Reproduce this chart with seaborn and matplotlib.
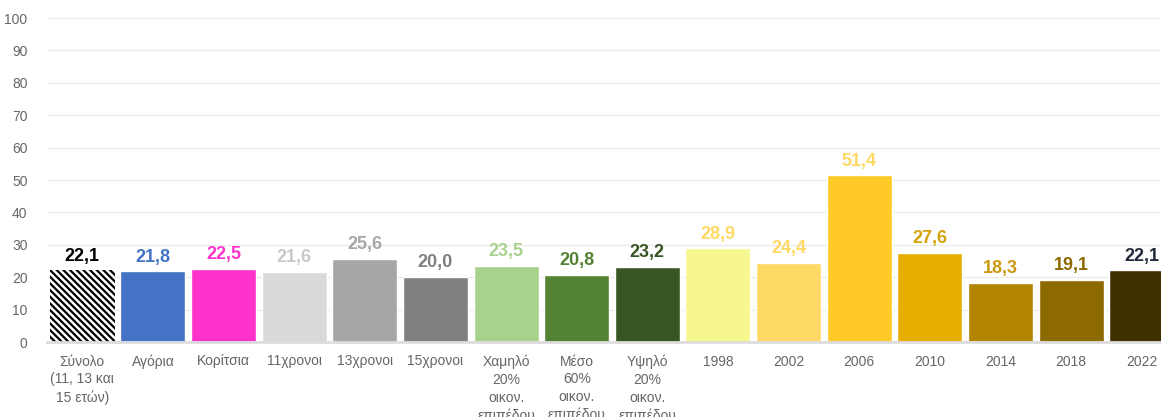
import pandas as pd
import matplotlib
matplotlib.use("Agg")
import matplotlib.pyplot as plt
import seaborn as sns

# Data
categories = [
    "Σύνολο\n(11, 13 και\n15 ετών)", "Αγόρια", "Κορίτσια", "11χρονοι",
    "13χρονοι", "15χρονοι", "Χαμηλό\n20%\nοικον.\nεπιπέδου",
    "Μέσο\n60%\nοικον.\nεπιπέδου", "Υψηλό\n20%\nοικον.\nεπιπέδου",
    "1998", "2002", "2006", "2010", "2014", "2018", "2022",
]
values = [22.1, 21.8, 22.5, 21.6, 25.6, 20.0, 23.5, 20.8, 23.2,
          28.9, 24.4, 51.4, 27.6, 18.3, 19.1, 22.1]
value_labels = ["22,1", "21,8", "22,5", "21,6", "25,6", "20,0", "23,5", "20,8",
                "23,2", "28,9", "24,4", "51,4", "27,6", "18,3", "19,1", "22,1"]

bar_colors = ["#ffffff", "#4472c4", "#ff33cc", "#d9d9d9", "#a6a6a6", "#808080",
              "#a9d18e", "#548235", "#375623", "#f7f78f", "#ffd966", "#ffca28",
              "#e6ae00", "#b38600", "#8c6a00", "#403000"]
label_colors = ["#000000", "#4472c4", "#ff33cc", "#c8c8c8", "#a6a6a6", "#808080",
                "#a9d18e", "#548235", "#375623", "#ffd966", "#ffd966", "#ffd966",
                "#d4a20a", "#c99a10", "#8c6a00", "#1f2a3a"]

df = pd.DataFrame({"category": categories, "value": values})

sns.set_style("white")
plt.rcParams["font.family"] = ["Liberation Sans", "DejaVu Sans"]
plt.rcParams["hatch.linewidth"] = 1.6

fig = plt.figure(figsize=(11.61, 4.17), dpi=100)
ax = fig.add_axes([47 / 1161, 75 / 417, 1130 / 1161, 324 / 417])

sns.barplot(
    data=df,
    x="category",
    y="value",
    hue="category",
    palette=bar_colors,
    legend=False,
    width=0.92,
    saturation=1,
    ax=ax,
)

# Striped first bar
first = ax.patches[0]
first.set_hatch("\\\\\\\\\\")
first.set_edgecolor("#000000")
first.set_linewidth(0)

# Value labels
for i, (v, lab) in enumerate(zip(values, value_labels)):
    ax.text(i, v + 1.8, lab, ha="center", va="bottom", fontsize=13,
            fontweight="bold", color=label_colors[i])

ax.set_ylim(0, 100)
ax.set_yticks(range(0, 101, 10))
ax.set_xlim(-0.5, len(categories) - 0.5)
ax.grid(axis="y", color="#ebebeb", linewidth=1)
ax.set_axisbelow(True)
for side in ["left", "right", "top"]:
    ax.spines[side].set_visible(False)
ax.spines["bottom"].set_color("#dddddd")
ax.spines["bottom"].set_linewidth(2)

ax.tick_params(axis="both", length=0, labelsize=10, colors="#666666")
ax.tick_params(axis="x", pad=9)
ax.tick_params(axis="y", pad=14)
for t in ax.get_xticklabels():
    t.set_linespacing(1.35)
ax.set_xlabel("")
ax.set_ylabel("")

fig.savefig("out.png", dpi=100)
